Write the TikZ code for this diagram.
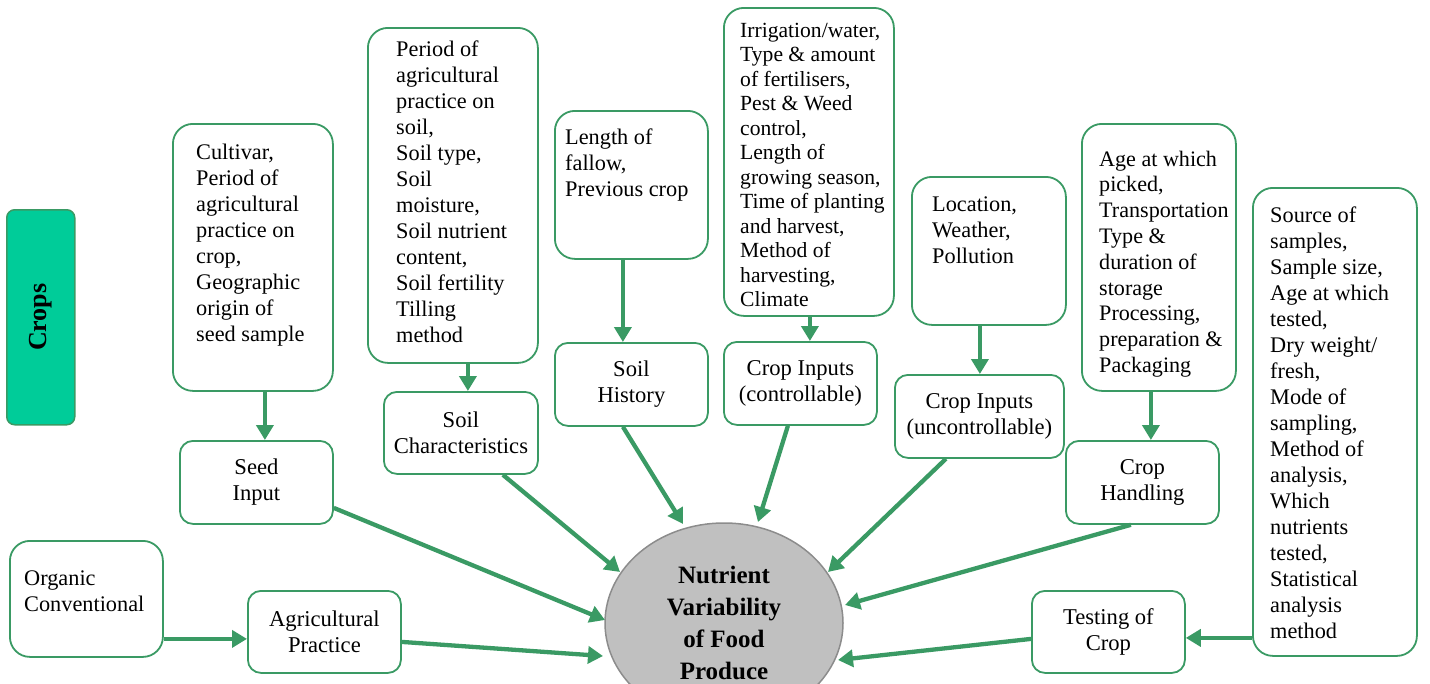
\documentclass[tikz,border=0pt]{standalone}
\usepackage{fontspec}
\setmainfont{Liberation Serif}
\usetikzlibrary{arrows.meta,shapes.geometric}
\definecolor{gline}{RGB}{58,154,100}
\definecolor{cropfill}{RGB}{0,204,153}
\definecolor{ellfill}{RGB}{192,192,192}
\definecolor{ellline}{RGB}{140,140,140}
\tikzset{
  bigbox/.style={draw=gline, line width=1.8pt, rounded corners=20pt, anchor=north west, inner sep=0pt, fill=white},
  smallbox/.style={draw=gline, line width=1.8pt, rounded corners=13pt, anchor=north west, inner sep=0pt, align=center, fill=white,
     font=\fontsize{22.6}{26}\selectfont},
  boxtext/.style={anchor=base west, inner sep=0pt, align=left, font=\fontsize{22.3}{26}\selectfont},
  arr/.style={draw=gline, line width=4.3pt, -{Triangle[length=15pt,width=17pt]}}
}
\begin{document}
\begin{tikzpicture}[x=1pt,y=-1pt]
\useasboundingbox (0,0) rectangle (1430,683);
\clip (0,0) rectangle (1430,683);

% Crops label
\node[draw=gline, line width=1.5pt, fill=cropfill, rounded corners=8pt, anchor=north west, minimum width=68pt, minimum height=215pt, inner sep=0pt] (crops) at (6,209) {};
\node[rotate=90, font=\fontsize{26}{30}\selectfont\bfseries] (cropstxt) at (crops.center) {Crops};

% central ellipse
\node[ellipse, draw=ellline, line width=1.5pt, fill=ellfill, minimum width=238pt, minimum height=200pt, inner sep=0pt, align=center,
  font=\fontsize{25}{32}\selectfont\bfseries] (ell) at (724,623) {Nutrient\\Variability\\of Food\\Produce};

% detail boxes (text anchored at the baseline of its last line)
\node[bigbox, minimum width=160pt, minimum height=267pt] (cb) at (172,123) {};
\node[boxtext] (cbt) at (196,341) {Cultivar,\\Period of\\agricultural\\practice on\\crop,\\Geographic\\origin of\\seed sample};

\node[bigbox, minimum width=170pt, minimum height=335pt] (pb) at (367,27) {};
\node[boxtext] (pbt) at (396,342) {Period of\\agricultural\\practice on\\soil,\\Soil type,\\Soil\\moisture,\\Soil nutrient\\content,\\Soil fertility\\Tilling\\method};

\node[bigbox, minimum width=153pt, minimum height=148pt] (lb) at (554,110) {};
\node[boxtext] (lbt) at (565,196) {Length of\\fallow,\\Previous crop};

\node[bigbox, minimum width=170pt, minimum height=308pt] (ib) at (723,7) {};
\node[boxtext, font=\fontsize{21.6}{24.5}\selectfont] (ibt) at (740,306.5) {Irrigation/water,\\Type \& amount\\of fertilisers,\\Pest \& Weed\\control,\\Length of\\growing season,\\Time of planting\\and harvest,\\Method of\\harvesting,\\Climate};

\node[bigbox, minimum width=154pt, minimum height=148pt] (locb) at (911,176) {};
\node[boxtext] (locbt) at (932,263) {Location,\\Weather,\\Pollution};

\node[bigbox, minimum width=154pt, minimum height=267pt] (ab) at (1081,123) {};
\node[boxtext, font=\fontsize{22.1}{25.8}\selectfont] (abt) at (1099,372.4) {Age at which\\picked,\\Transportation\\Type \&\\duration of\\storage\\Processing,\\preparation \&\\Packaging};

\node[bigbox, minimum width=164pt, minimum height=468pt] (srcb) at (1252,187) {};
\node[boxtext] (srcbt) at (1270,638) {Source of\\samples,\\Sample size,\\Age at which\\tested,\\Dry weight/\\fresh,\\Mode of\\sampling,\\Method of\\analysis,\\Which\\nutrients\\tested,\\Statistical\\analysis\\method};

\node[bigbox, minimum width=153pt, minimum height=116pt] (orgb) at (9,540) {};
\node[boxtext] (orgbt) at (24,611) {Organic\\Conventional};

% factor boxes
\node[smallbox, minimum width=153pt, minimum height=83pt] (seed) at (179,440) {Seed\\Input};
\node[smallbox, minimum width=154pt, minimum height=82pt] (sc) at (383,391) {Soil\\Characteristics};
\node[smallbox, minimum width=153pt, minimum height=83pt] (sh) at (554,342) {Soil\\History};
\node[smallbox, minimum width=153pt, minimum height=83pt] (cic) at (723,341) {Crop Inputs\\(controllable)};
\node[smallbox, minimum width=169pt, minimum height=83pt] (ciu) at (894,374) {Crop Inputs\\(uncontrollable)};
\node[smallbox, minimum width=153pt, minimum height=83pt] (ch) at (1065,440) {Crop\\Handling};
\node[smallbox, minimum width=153pt, minimum height=82pt] (toc) at (1031,590) {Testing of\\Crop};
\node[smallbox, minimum width=153pt, minimum height=82pt] (ap) at (247,590) {Agricultural\\Practice};

% detail -> factor arrows
\draw[arr] ([xshift=12pt]cb.south) -- ([xshift=8.5pt]seed.north);
\draw[arr] ([xshift=15pt]pb.south) -- ([xshift=7pt]sc.north);
\draw[arr] ([xshift=-8.5pt]lb.south) -- ([xshift=-8.5pt]sh.north);
\draw[arr] ([xshift=1pt]ib.south) -- ([xshift=9.5pt]cic.north);
\draw[arr] ([xshift=-9pt]locb.south) -- ([xshift=0.5pt]ciu.north);
\draw[arr] ([xshift=-8pt]ab.south) -- ([xshift=8.5pt]ch.north);
\draw[arr] ([yshift=-216pt]srcb.west) -- ([yshift=-6pt]toc.east);
\draw[arr] ([yshift=-40pt]orgb.east) -- ([yshift=-7pt]ap.west);

% ellipse end points
\coordinate (eseed) at (605,620);
\coordinate (esc) at (620,572);
\coordinate (esh) at (683,524);
\coordinate (ecic) at (758,522);
\coordinate (eciu) at (828,572);
\coordinate (ech) at (845,605);
\coordinate (etoc) at (838,660);
\coordinate (eap) at (603,656);

% factor -> ellipse arrows
\draw[arr] ([yshift=-25.5pt]seed.east) -- (eseed);
\draw[arr] ([xshift=42pt]sc.south) -- (esc);
\draw[arr] ([xshift=-8.5pt]sh.south) -- (esh);
\draw[arr] ([xshift=-12.5pt]cic.south) -- (ecic);
\draw[arr] ([xshift=-33.5pt]ciu.south) -- (eciu);
\draw[arr] ([xshift=-11.5pt]ch.south) -- (ech);
\draw[arr] ([yshift=-7pt]toc.west) -- (etoc);
\draw[arr] ([yshift=-10pt]ap.east) -- (eap);
\end{tikzpicture}
\end{document}
